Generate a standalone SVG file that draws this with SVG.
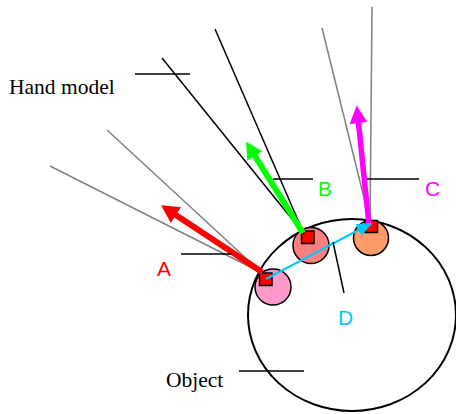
<svg xmlns="http://www.w3.org/2000/svg" width="456" height="414" viewBox="0 0 456 414">
  <style>
    .lbl{font-family:"Liberation Serif","Times New Roman",serif;font-size:21.5px;fill:#000}
    .let{font-family:"Liberation Sans",Arial,sans-serif;font-size:21px}
    .lead{stroke:#000;stroke-width:1.5;fill:none}
    .blk{stroke:#000;stroke-width:1.5;fill:none}
    .gry{stroke:#808080;stroke-width:1.5;fill:none}
    .sq{fill:#ff0000;stroke:#000;stroke-width:1.5}
    .circ{stroke:#000;stroke-width:1.5}
  </style>
  <defs>
    <marker id="hr" markerUnits="userSpaceOnUse" markerWidth="20" markerHeight="20" viewBox="0 -9 18 18" refX="1" refY="0" orient="auto"><path d="M0,-8.4L16,0L0,8.4z" fill="#ff0000"/></marker>
    <marker id="hg" markerUnits="userSpaceOnUse" markerWidth="20" markerHeight="20" viewBox="0 -9 18 18" refX="1" refY="0" orient="auto"><path d="M0,-8L15,0L0,8z" fill="#00ff00"/></marker>
    <marker id="hm" markerUnits="userSpaceOnUse" markerWidth="20" markerHeight="20" viewBox="0 -9 18 18" refX="1" refY="0" orient="auto"><path d="M0,-8L16,0L0,8z" fill="#ff00ff"/></marker>
    <marker id="hc" markerUnits="userSpaceOnUse" markerWidth="20" markerHeight="20" viewBox="0 -9 18 18" refX="1" refY="0" orient="auto"><path d="M0,-6L14,0L0,6z" fill="#00c8ff"/></marker>
  </defs>
  <g id="object">
    <ellipse cx="352" cy="315" rx="104" ry="96" fill="#fff" stroke="#000" stroke-width="2"/>
    <line class="lead" x1="239" y1="371" x2="304" y2="371"/>
    <text class="lbl" x="166" y="387">Object</text>
  </g>
  <g id="hand-model">
    <line class="lead" x1="135" y1="74" x2="190" y2="74"/>
    <text class="lbl" x="9" y="94">Hand model</text>
  </g>
  <g id="contact-A">
    <circle class="circ" cx="273" cy="287" r="18" fill="#ff99cc"/>
    <rect class="sq" x="259.5" y="273" width="12.5" height="12.5"/>
  </g>
  <g id="contact-B">
    <circle class="circ" cx="311" cy="245.5" r="18" fill="#ff8080"/>
    <rect class="sq" x="301.5" y="231" width="12.5" height="12.5"/>
  </g>
  <g id="contact-C">
    <circle class="circ" cx="371" cy="238" r="17.5" fill="#ff9966"/>
    <rect class="sq" x="365" y="220.5" width="12.5" height="12"/>
  </g>
  <g id="connectors">
    <line class="gry" x1="50" y1="166" x2="262" y2="273"/>
    <line class="gry" x1="107" y1="130" x2="262" y2="273"/>
    <line class="blk" x1="162" y1="58" x2="304" y2="234"/>
    <line class="blk" x1="215" y1="29" x2="304" y2="234"/>
    <line class="gry" x1="322" y1="28" x2="371" y2="226"/>
    <line class="gry" x1="372" y1="7" x2="370" y2="226"/>
    <line stroke="#ff0000" stroke-width="6" x1="262" y1="272" x2="175" y2="214.5" marker-end="url(#hr)"/>
    <line stroke="#00ff00" stroke-width="6" x1="303" y1="233" x2="254.3" y2="155" marker-end="url(#hg)"/>
    <line stroke="#ff00ff" stroke-width="5.5" x1="369" y1="225" x2="358.4" y2="122" marker-end="url(#hm)"/>
    <line stroke="#00c8ff" stroke-width="2" x1="266" y1="279" x2="359.5" y2="229.5" marker-end="url(#hc)"/>
  </g>
  <g id="label-A">
    <line class="lead" x1="181" y1="254" x2="231" y2="254"/>
    <text class="let" x="157" y="276" fill="#ff0000">A</text>
  </g>
  <g id="label-B">
    <line class="lead" x1="273" y1="179" x2="313" y2="179"/>
    <text class="let" x="318" y="196" fill="#00ff00">B</text>
  </g>
  <g id="label-C">
    <line class="lead" x1="367" y1="179" x2="419" y2="179"/>
    <text class="let" x="425" y="196" fill="#ff00ff">C</text>
  </g>
  <g id="label-D">
    <line class="lead" x1="333" y1="242" x2="344" y2="293"/>
    <text class="let" x="338" y="325" fill="#00c8ff">D</text>
  </g>
</svg>
